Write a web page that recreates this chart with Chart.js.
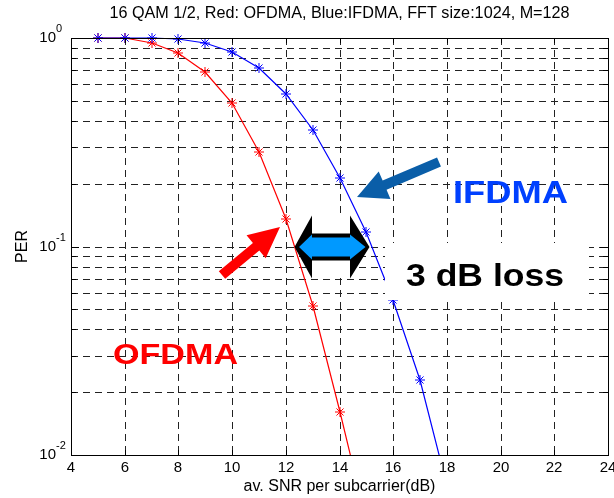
<!DOCTYPE html>
<html>
<head>
<meta charset="utf-8">
<title>PER vs SNR</title>
<script src="https://cdn.jsdelivr.net/npm/chart.js@4.4.1/dist/chart.umd.min.js"></script>
<style>
    html, body { margin: 0; padding: 0; background: #fff; }
    #perChart { display: block; }
</style>
</head>
<body>
<canvas id="perChart" width="614" height="498"></canvas>
<script>
// 数据
const ofdmaSnr = [5, 6, 7, 8, 9, 10, 11, 12, 13, 14, 15];
const ofdmaPer = [1.0, 0.995, 0.943, 0.85, 0.685, 0.49, 0.285, 0.136, 0.052, 0.016, 0.0049];
const ifdmaSnr = [5, 6, 7, 8, 9, 10, 11, 12, 13, 14, 15, 16, 17, 18];
const ifdmaPer = [1.0, 1.0, 1.0, 0.989, 0.95, 0.854, 0.716, 0.539, 0.362, 0.214, 0.117, 0.0555, 0.0228, 0.0071];
const xTicks = [4, 6, 8, 10, 12, 14, 16, 18, 20, 22, 24];
const yDecades = [0.01, 0.1, 1];

const titleText = '16 QAM 1/2, Red: OFDMA, Blue:IFDMA, FFT size:1024, M=128';
const xLabel = 'av. SNR per subcarrier(dB)';
const yLabel = 'PER';

const FONT = '"Liberation Sans", Arial, sans-serif';

// 标注 (数据坐标)
const ifdmaArrow = { from: [17.69, 0.2551], to: [14.64, 0.1733], color: '#0a5ea8' };
const ofdmaArrow = { from: [9.64, 0.0730], to: [11.80, 0.1245], color: '#ff0000' };
const gapArrowAt = [13.72, 0.1];
const lossBox = { x1: 15.70, x2: 23.30, y1: 0.104, y2: 0.0554 };
const labels = [
    { text: 'IFDMA', at: [18.22, 0.162], size: 32, width: 115, color: '#0040ff' },
    { text: '3 dB loss', at: [16.46, 0.0646], size: 32, width: 158, color: '#000000' },
    { text: 'OFDMA', at: [5.57, 0.0272], size: 29, width: 125, color: '#ff0000' }
];

// y 轴刻度: 每个数量级 1..9
function logTickValues() {
    const vals = [];
    for (let i = 0; i < yDecades.length - 1; i++) {
        for (let k = 1; k < 10; k++) vals.push(+(yDecades[i] * k).toPrecision(3));
    }
    vals.push(yDecades[yDecades.length - 1]);
    return vals;
}

function toPoints(xs, ys) {
    return xs.map((x, i) => ({ x: x, y: ys[i] }));
}

// 画实心箭头
function drawArrow(ctx, x1, y1, x2, y2, shaftW, headW, headL, color) {
    const len = Math.hypot(x2 - x1, y2 - y1);
    const ux = (x2 - x1) / len, uy = (y2 - y1) / len;
    const nx = -uy, ny = ux;
    const bx = x2 - ux * headL, by = y2 - uy * headL;
    ctx.beginPath();
    ctx.moveTo(x1 + nx * shaftW / 2, y1 + ny * shaftW / 2);
    ctx.lineTo(bx + nx * shaftW / 2, by + ny * shaftW / 2);
    ctx.lineTo(bx + nx * headW / 2, by + ny * headW / 2);
    ctx.lineTo(x2, y2);
    ctx.lineTo(bx - nx * headW / 2, by - ny * headW / 2);
    ctx.lineTo(bx - nx * shaftW / 2, by - ny * shaftW / 2);
    ctx.lineTo(x1 - nx * shaftW / 2, y1 - ny * shaftW / 2);
    ctx.closePath();
    ctx.fillStyle = color;
    ctx.fill();
}

// 双向箭头
function doubleArrowPath(ctx, cx, cy, tipL, tipR, backL, backR, headH, shaftH) {
    ctx.beginPath();
    ctx.moveTo(cx + tipL, cy);
    ctx.lineTo(cx + backL, cy - headH);
    ctx.lineTo(cx + backL, cy - shaftH);
    ctx.lineTo(cx + backR, cy - shaftH);
    ctx.lineTo(cx + backR, cy - headH);
    ctx.lineTo(cx + tipR, cy);
    ctx.lineTo(cx + backR, cy + headH);
    ctx.lineTo(cx + backR, cy + shaftH);
    ctx.lineTo(cx + backL, cy + shaftH);
    ctx.lineTo(cx + backL, cy + headH);
    ctx.closePath();
}

const decorPlugin = {
    id: 'decor',
    beforeDraw(chart) {
        const ctx = chart.ctx;
        ctx.save();
        ctx.fillStyle = '#fff';
        ctx.fillRect(0, 0, chart.width, chart.height);
        ctx.restore();
    },
    afterDatasetsDraw(chart) {
        const ctx = chart.ctx;
        const area = chart.chartArea;
        const xs = chart.scales.x, ys = chart.scales.y;
        const px = v => xs.getPixelForValue(v);
        const py = v => ys.getPixelForValue(v);

        ctx.save();

        // 坐标框
        ctx.strokeStyle = '#000';
        ctx.lineWidth = 1;
        ctx.strokeRect(area.left + 0.5, area.top + 0.5, area.right - area.left, area.bottom - area.top);

        // 内向刻度线
        ctx.beginPath();
        xTicks.forEach(v => {
            const x = Math.round(px(v)) + 0.5;
            ctx.moveTo(x, area.bottom); ctx.lineTo(x, area.bottom - 5);
            ctx.moveTo(x, area.top); ctx.lineTo(x, area.top + 5);
        });
        logTickValues().forEach(v => {
            const y = Math.round(py(v)) + 0.5;
            const len = yDecades.includes(v) ? 8 : 5;
            ctx.moveTo(area.left, y); ctx.lineTo(area.left + len, y);
            ctx.moveTo(area.right, y); ctx.lineTo(area.right - len, y);
        });
        ctx.stroke();

        // y 轴 10^n 标签
        ctx.fillStyle = '#000';
        yDecades.forEach(v => {
            const y = py(v);
            const exp = Math.round(Math.log10(v));
            ctx.font = '15px ' + FONT;
            ctx.textAlign = 'right';
            ctx.textBaseline = 'middle';
            ctx.fillText('10', area.left - 15, y);
            ctx.font = '11px ' + FONT;
            ctx.textAlign = 'left';
            ctx.fillText(String(exp), area.left - 15, y - 9);
        });

        // 标题
        ctx.font = '16.2px ' + FONT;
        ctx.textAlign = 'center';
        ctx.textBaseline = 'middle';
        ctx.fillText(titleText, (area.left + area.right) / 2, 14);

        // 3 dB loss 白底
        ctx.fillStyle = '#fff';
        const bx1 = px(lossBox.x1), bx2 = px(lossBox.x2);
        const by1 = py(lossBox.y1), by2 = py(lossBox.y2);
        ctx.fillRect(bx1, by1, bx2 - bx1, by2 - by1);

        // 箭头
        drawArrow(ctx, px(ifdmaArrow.from[0]), py(ifdmaArrow.from[1]),
            px(ifdmaArrow.to[0]), py(ifdmaArrow.to[1]), 10, 30, 30, ifdmaArrow.color);
        drawArrow(ctx, px(ofdmaArrow.from[0]), py(ofdmaArrow.from[1]),
            px(ofdmaArrow.to[0]), py(ofdmaArrow.to[1]), 10, 30, 31, ofdmaArrow.color);

        // 双向箭头
        const cx = px(gapArrowAt[0]), cy = py(gapArrowAt[1]);
        ctx.fillStyle = '#fff';
        ctx.fillRect(cx - 20, cy - 32, 38, 63);
        doubleArrowPath(ctx, cx, cy, -37.5, 37.5, -20, 18, 31.5, 13.5);
        ctx.fillStyle = '#000';
        ctx.fill();
        doubleArrowPath(ctx, cx, cy, -33, 33.5, -20, 18, 12.5, 9.5);
        ctx.fillStyle = '#0099ff';
        ctx.fill();

        // 文字 (横向拉伸到目标宽度)
        labels.forEach(t => {
            ctx.font = 'bold ' + t.size + 'px ' + FONT;
            ctx.textAlign = 'left';
            ctx.textBaseline = 'alphabetic';
            const w = ctx.measureText(t.text).width;
            const sx = t.width / w;
            ctx.save();
            ctx.translate(px(t.at[0]), py(t.at[1]));
            ctx.scale(sx, 1);
            ctx.fillStyle = t.color;
            ctx.fillText(t.text, 0, 0);
            ctx.restore();
        });

        ctx.restore();
    }
};

const gridOpts = { color: '#222', lineWidth: 1, drawTicks: false };
const borderOpts = { display: false, dash: [7, 5] };

new Chart(document.getElementById('perChart').getContext('2d'), {
    type: 'line',
    data: {
        datasets: [
            {
                label: 'IFDMA',
                data: toPoints(ifdmaSnr, ifdmaPer),
                borderColor: '#0000ff',
                backgroundColor: '#0000ff',
                borderWidth: 1.2,
                pointStyle: 'star',
                pointRadius: 5,
                pointBorderWidth: 1,
                tension: 0,
                clip: { left: 8, top: 8, right: 8, bottom: 0 }
            },
            {
                label: 'OFDMA',
                data: toPoints(ofdmaSnr, ofdmaPer),
                borderColor: '#ff0000',
                backgroundColor: '#ff0000',
                borderWidth: 1.2,
                pointStyle: 'star',
                pointRadius: 5,
                pointBorderWidth: 1,
                tension: 0,
                clip: { left: 8, top: 8, right: 8, bottom: 0 }
            }
        ]
    },
    options: {
        responsive: false,
        animation: false,
        devicePixelRatio: 1,
        layout: { padding: { top: 38, right: 3, bottom: 0, left: 0 } },
        plugins: {
            legend: { display: false },
            tooltip: { enabled: false },
            title: { display: false }
        },
        scales: {
            x: {
                type: 'linear',
                min: 4,
                max: 24,
                alignToPixels: true,
                afterFit: s => { s.height = 43; s.paddingLeft = 0; s.paddingRight = 0; },
                afterBuildTicks: s => { s.ticks = xTicks.map(v => ({ value: v })); },
                ticks: { color: '#000', font: { family: FONT, size: 15 }, padding: 4, maxRotation: 0, autoSkip: false },
                grid: gridOpts,
                border: borderOpts,
                title: { display: true, text: xLabel, color: '#000', font: { family: FONT, size: 16 }, padding: { top: 0, bottom: 2 } }
            },
            y: {
                type: 'logarithmic',
                min: 0.01,
                max: 1,
                alignToPixels: true,
                afterFit: s => { s.width = 71; s.paddingTop = 0; s.paddingBottom = 0; },
                afterBuildTicks: s => { s.ticks = logTickValues().map(v => ({ value: v })); },
                ticks: { display: false },
                grid: gridOpts,
                border: borderOpts,
                title: { display: true, text: yLabel, color: '#000', font: { family: FONT, size: 16 }, padding: { top: 13, bottom: 0 } }
            }
        }
    },
    plugins: [decorPlugin]
});
</script>
</body>
</html>
